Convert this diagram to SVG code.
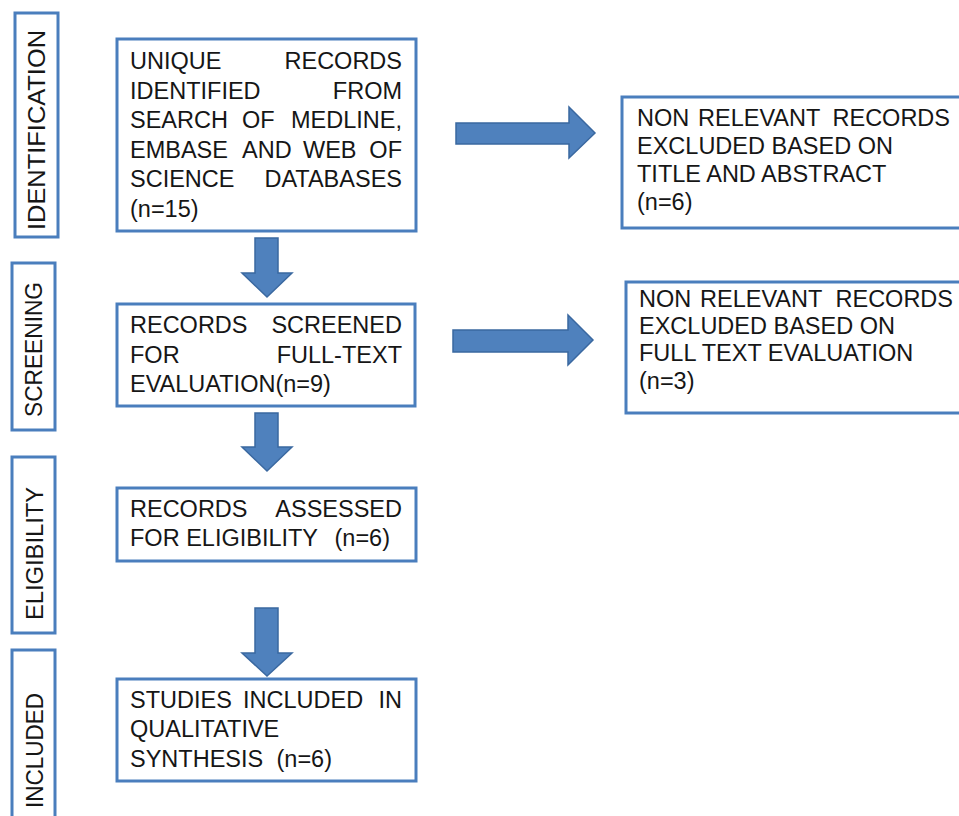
<svg xmlns="http://www.w3.org/2000/svg" width="959" height="816" viewBox="0 0 959 816">
<style>
.box{fill:#fff;stroke:#4a7ebd;stroke-width:3}
.arr{fill:#4f81bd;stroke:#3a68a0;stroke-width:1.5}
.t{font-family:"Liberation Sans",Arial,sans-serif;font-size:23.5px;fill:#161616}
.e{text-anchor:end}
.lb{font-family:"Liberation Sans",Arial,sans-serif;font-size:23px;fill:#161616}
</style>
<rect width="959" height="816" fill="#fff"/>
<g id="connectors">
<path class="arr" d="M456,123 H569 V107 L595,133 L569,158 V144 H456 Z"/>
<path class="arr" d="M453,330 H568 V315 L593,340 L568,365 V352 H453 Z"/>
<path class="arr" d="M255,238 H278 V273 H292 L267,297 L242,273 H255 Z"/>
<path class="arr" d="M255,413 H278 V447 H292 L267,471 L242,447 H255 Z"/>
<path class="arr" d="M255,608 H278 V653 H292 L267,676 L242,653 H255 Z"/>
</g>
<g id="label-identification">
<rect class="box" x="15" y="13" width="43" height="224"/>
<text class="lb" transform="translate(45,230) rotate(-90)" textLength="200" lengthAdjust="spacingAndGlyphs">IDENTIFICATION</text>
</g>
<g id="label-screening">
<rect class="box" x="12" y="263" width="43" height="167"/>
<text class="lb" transform="translate(42,417) rotate(-90)" textLength="135" lengthAdjust="spacingAndGlyphs">SCREENING</text>
</g>
<g id="label-eligibility">
<rect class="box" x="12" y="457" width="43" height="176"/>
<text class="lb" transform="translate(43,620) rotate(-90)" textLength="133" lengthAdjust="spacingAndGlyphs">ELIGIBILITY</text>
</g>
<g id="label-included">
<rect class="box" x="12" y="650" width="43" height="180"/>
<text class="lb" transform="translate(43,808) rotate(-90)" textLength="115" lengthAdjust="spacingAndGlyphs">INCLUDED</text>
</g>
<g id="node-identified">
<rect class="box" x="117" y="39" width="299" height="192"/>
<text class="t" x="130" y="69">UNIQUE</text><text class="t e" x="402" y="69">RECORDS</text>
<text class="t" x="130" y="98.5">IDENTIFIED</text><text class="t e" x="402" y="98.5">FROM</text>
<text class="t" x="130" y="128">SEARCH</text><text class="t" x="242" y="128">OF</text><text class="t e" x="402" y="128">MEDLINE,</text>
<text class="t" x="130" y="157.5">EMBASE</text><text class="t" x="242" y="157.5">AND</text><text class="t" x="303" y="157.5">WEB</text><text class="t e" x="402" y="157.5">OF</text>
<text class="t" x="130" y="187">SCIENCE</text><text class="t e" x="402" y="187">DATABASES</text>
<text class="t" x="130" y="216.5">(n=15)</text>
</g>
<g id="node-excluded-title">
<rect class="box" x="622" y="97" width="345" height="131"/>
<text class="t" x="637" y="126">NON</text><text class="t" x="698" y="126">RELEVANT</text><text class="t e" x="950" y="126">RECORDS</text>
<text class="t" x="637" y="154">EXCLUDED BASED ON</text>
<text class="t" x="637" y="182">TITLE AND ABSTRACT</text>
<text class="t" x="637" y="210">(n=6)</text>
</g>
<g id="node-screened">
<rect class="box" x="117" y="304" width="298" height="102"/>
<text class="t" x="130" y="333">RECORDS</text><text class="t e" x="402" y="333">SCREENED</text>
<text class="t" x="130" y="362.5">FOR</text><text class="t e" x="402" y="362.5">FULL-TEXT</text>
<text class="t" x="130" y="392">EVALUATION(n=9)</text>
</g>
<g id="node-excluded-fulltext">
<rect class="box" x="626" y="282" width="345" height="131"/>
<text class="t" x="639" y="307">NON</text><text class="t" x="700" y="307">RELEVANT</text><text class="t e" x="953" y="307">RECORDS</text>
<text class="t" x="639" y="334">EXCLUDED BASED ON</text>
<text class="t" x="639" y="361">FULL TEXT EVALUATION</text>
<text class="t" x="639" y="389">(n=3)</text>
</g>
<g id="node-eligibility">
<rect class="box" x="117" y="488" width="299" height="73"/>
<text class="t" x="130" y="517">RECORDS</text><text class="t e" x="402" y="517">ASSESSED</text>
<text class="t" x="130" y="546">FOR ELIGIBILITY</text><text class="t e" x="390" y="546">(n=6)</text>
</g>
<g id="node-included">
<rect class="box" x="117" y="679" width="299" height="102"/>
<text class="t" x="130" y="708">STUDIES</text><text class="t" x="243" y="708">INCLUDED</text><text class="t e" x="402" y="708">IN</text>
<text class="t" x="130" y="737">QUALITATIVE</text>
<text class="t" x="130" y="767">SYNTHESIS</text><text class="t e" x="332" y="767">(n=6)</text>
</g>
</svg>
